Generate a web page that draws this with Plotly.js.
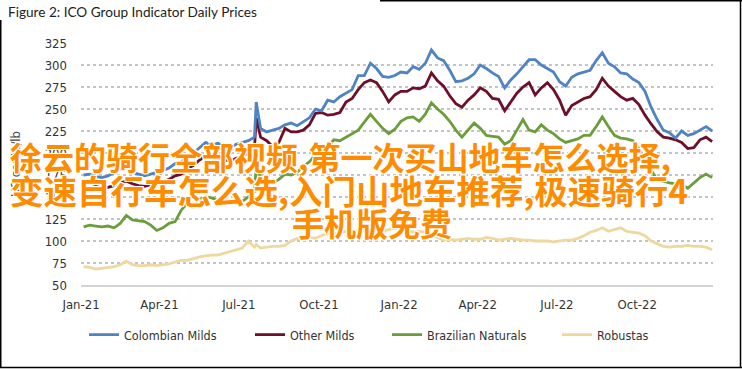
<!DOCTYPE html>
<html>
<head>
<meta charset="utf-8">
<script src="https://cdn.plot.ly/plotly-3.0.1.min.js"></script>
<style>
  html, body { margin: 0; padding: 0; background: #fff; }
  #chart { width: 742px; height: 369px; }
</style>
</head>
<body>
<div id="chart"></div>
<script>
// ---- Data ----
const dates = [
  "2021-01-04","2021-01-11","2021-01-18","2021-01-25","2021-02-01","2021-02-08","2021-02-15","2021-02-22",
  "2021-03-01","2021-03-08","2021-03-15","2021-03-22","2021-03-29","2021-04-05","2021-04-12","2021-04-19",
  "2021-04-26","2021-05-03","2021-05-10","2021-05-17","2021-05-24","2021-05-31","2021-06-07","2021-06-14",
  "2021-06-21","2021-06-28","2021-07-05","2021-07-12","2021-07-19","2021-07-21","2021-07-26","2021-08-02",
  "2021-08-09","2021-08-16","2021-08-23","2021-08-30","2021-09-06","2021-09-13","2021-09-20","2021-09-27",
  "2021-10-04","2021-10-11","2021-10-18","2021-10-25","2021-11-01","2021-11-08","2021-11-15","2021-11-22",
  "2021-11-29","2021-12-06","2021-12-13","2021-12-20","2021-12-27",
  "2022-01-03","2022-01-10","2022-01-17","2022-01-24","2022-01-31","2022-02-07","2022-02-14","2022-02-21",
  "2022-02-28","2022-03-07","2022-03-14","2022-03-21","2022-03-28","2022-04-04","2022-04-11","2022-04-18",
  "2022-04-25","2022-05-02","2022-05-09","2022-05-16","2022-05-23","2022-05-30","2022-06-06","2022-06-13",
  "2022-06-20","2022-06-27","2022-07-04","2022-07-11","2022-07-18","2022-07-25","2022-08-01","2022-08-08",
  "2022-08-15","2022-08-22","2022-08-29","2022-09-05","2022-09-12","2022-09-19","2022-09-26","2022-10-03",
  "2022-10-10","2022-10-17","2022-10-24","2022-10-31","2022-11-07","2022-11-14","2022-11-21","2022-11-28",
  "2022-12-05","2022-12-12","2022-12-19","2022-12-26"
];

const colombianMilds = [
  175,176,173,172,174,178,182,184,178,176,174,176,178,180,183,188,
  190,194,200,206,212,209,211,208,206,210,212,214,218,258,228,224,
  226,228,232,234,231,236,240,250,248,260,258,264,268,272,288,288,
  302,296,287,286,288,
  292,291,298,295,302,317,308,305,294,281,282,285,290,300,296,291,
  287,274,283,290,298,306,306,300,296,292,281,276,286,290,292,294,
  305,314,302,298,291,290,284,280,270,252,238,226,223,217,225,220,
  222,226,230,225
];

const otherMilds = [
  161,160,162,160,161,163,166,168,165,163,162,164,166,167,170,174,
  176,182,186,192,197,196,194,192,191,194,196,200,205,240,218,214,
  207,212,228,224,224,226,232,245,246,243,244,246,258,262,272,280,
  283,280,270,258,266,
  270,270,274,273,276,291,282,276,265,256,252,260,266,274,270,262,
  261,248,258,268,275,280,266,274,280,272,260,243,254,258,262,264,
  272,285,276,270,264,260,262,255,243,233,224,218,217,215,212,205,
  206,215,218,213
];

const brazilianNaturals = [
  116,118,117,116,117,115,120,129,124,123,122,118,112,115,120,122,
  135,143,139,148,150,149,146,147,145,146,145,150,156,185,172,168,
  166,170,176,175,178,185,190,198,200,207,215,214,218,222,226,235,
  244,236,228,222,227,
  236,240,241,236,244,257,250,244,236,226,218,226,234,228,220,219,
  218,210,214,226,238,226,224,232,226,222,216,212,214,216,220,220,
  230,241,230,220,217,216,214,205,192,180,170,168,166,165,164,160,
  166,172,176,172
];

const robustas = [
  71,70,68,69,70,71,73,77,73,72,72,73,72,73,74,76,
  78,78,80,82,83,84,84,86,88,90,92,100,93,96,92,93,
  94,94,95,100,103,102,104,103,106,109,108,110,111,110,112,112,
  110,109,111,113,115,
  114,112,110,111,110,108,104,101,102,101,102,103,102,102,104,103,
  101,102,103,102,101,101,100,100,100,99,100,101,101,103,106,110,
  112,115,111,113,115,111,110,109,106,100,97,94,93,94,94,95,
  94,94,93,90
];

const seriesNames = ["Colombian Milds", "Other Milds", "Brazilian Naturals", "Robustas"];
const seriesColors = ["#4f83c1", "#6e0f2a", "#6b9e3a", "#efd8a0"];
const tickDates = ["2021-01-01","2021-04-01","2021-07-01","2021-10-01","2022-01-01","2022-04-01","2022-07-01","2022-10-01"];
const tickLabels = ["Jan-21","Apr-21","Jul-21","Oct-21","Jan-22","Apr-22","Jul-22","Oct-22"];
const yTicks = [50,75,100,125,150,175,200,225,250,275,300,325];

const chartTitle = "Figure 2: ICO Group Indicator Daily Prices";
const yTitle = "US cents/lb";
const overlayLines = [
  "徐云的骑行全部视频,第一次买山地车怎么选择,",
  "变速自行车怎么选,入门山地车推荐,极速骑行4",
  "手机版免费"
];

// ---- Layout geometry ----
const W = 742, H = 369;
const M = { l: 81, r: 29, t: 43, b: 84 };
const pw = W - M.l - M.r, ph = H - M.t - M.b;
const px = x => (x - M.l) / pw;
const py = y => (H - M.b - y) / ph;

const narrow = 'Liberation Sans Narrow, "DejaVu Sans Condensed", "Arial Narrow", sans-serif';

const allValues = [colombianMilds, otherMilds, brazilianNaturals, robustas];
const legendIds = ["legend", "legend2", "legend3", "legend4"];
const legendStartPx = [84, 250, 387, 557];

const traces = allValues.map((vals, i) => ({
  type: "scatter",
  mode: "lines",
  x: dates,
  y: vals,
  name: seriesNames[i],
  legend: legendIds[i],
  line: { color: seriesColors[i], width: 2.8 },
  hoverinfo: "skip"
}));
traces.reverse();

const overlayFont = size => ({
  family: '"Noto Sans CJK SC", sans-serif', size: size, color: "#ff8c00", weight: "bold",
  shadow: "1px 1px 0 #fff, -1px -1px 0 #fff, 1px -1px 0 #fff, -1px 1px 0 #fff, 0 0 2px #fff"
});

const layout = {
  width: W, height: H,
  margin: M,
  paper_bgcolor: "#fff",
  plot_bgcolor: "#fff",
  showlegend: true,
  title: {
    text: chartTitle,
    font: { family: 'Lato, "Open Sans", sans-serif', size: 13.6, color: "#222" },
    x: 8 / W, xref: "container", xanchor: "left",
    y: 1 - 12 / H, yref: "container", yanchor: "middle"
  },
  xaxis: {
    type: "date",
    range: ["2021-01-01", "2022-12-27"],
    tickmode: "array",
    tickvals: tickDates,
    ticktext: tickLabels,
    showgrid: false,
    zeroline: false,
    showline: true,
    linecolor: "#d4d4d4",
    linewidth: 1.5,
    ticks: "",
    ticklabelstandoff: 7,
    tickfont: { family: narrow, size: 13, color: "#333" }
  },
  yaxis: {
    range: [50, 325],
    tickmode: "array",
    tickvals: yTicks,
    showgrid: true,
    gridcolor: "#c4c4c4",
    gridwidth: 1.3,
    griddash: "dot",
    zeroline: false,
    showline: false,
    ticks: "",
    ticklabelstandoff: 13,
    tickfont: { family: narrow, size: 13, color: "#333" },
    title: {
      text: yTitle,
      font: { family: narrow, size: 13, color: "#444" },
      standoff: 21
    }
  },
  annotations: [
    { text: overlayLines[0], xref: "paper", yref: "paper", x: px(8), y: py(156), xanchor: "left", yanchor: "middle", showarrow: false, font: overlayFont(32) },
    { text: overlayLines[1], xref: "paper", yref: "paper", x: px(8), y: py(189), xanchor: "left", yanchor: "middle", showarrow: false, font: overlayFont(33.5) },
    { text: overlayLines[2], xref: "paper", yref: "paper", x: px(372), y: py(222), xanchor: "center", yanchor: "middle", showarrow: false, font: overlayFont(32) }
  ],
  shapes: [
    { type: "line", xref: "paper", yref: "paper", x0: px(0.75), x1: px(0.75), y0: py(20), y1: py(368), line: { color: "#000", width: 1.5 } },
    { type: "line", xref: "paper", yref: "paper", x0: px(0), x1: px(742), y0: py(367.5), y1: py(367.5), line: { color: "#000", width: 1.5 } },
    { type: "line", xref: "paper", yref: "paper", x0: px(740.5), x1: px(740.5), y0: py(0), y1: py(368), line: { color: "#000", width: 1.5 } },
    { type: "line", xref: "paper", yref: "paper", x0: px(380), x1: px(742), y0: py(0.75), y1: py(0.75), line: { color: "#000", width: 1.5 } }
  ]
};

legendIds.forEach((id, i) => {
  layout[id] = {
    orientation: "h",
    x: px(legendStartPx[i]),
    xanchor: "left",
    y: py(335),
    yanchor: "middle",
    bgcolor: "rgba(0,0,0,0)",
    font: { family: narrow, size: 12.5, color: "#333" },
    itemwidth: 30
  };
});

Plotly.newPlot("chart", traces, layout, { staticPlot: true, displayModeBar: false });
</script>
</body>
</html>
